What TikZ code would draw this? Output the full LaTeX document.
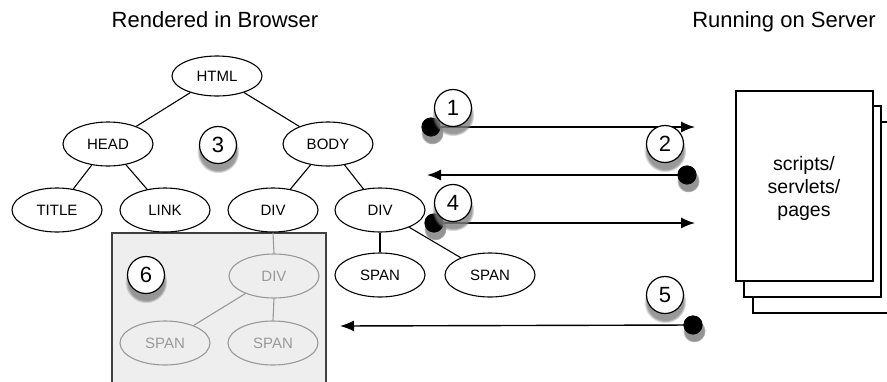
\documentclass[tikz,border=0pt]{standalone}
\usepackage{fontspec}
\setmainfont{Liberation Sans}
\usetikzlibrary{shapes.geometric,arrows.meta,shadows,positioning}

\definecolor{boxgray}{HTML}{EEEEEE}
\definecolor{ghostgray}{HTML}{999999}

\tikzset{
  tag/.style={ellipse, draw, line width=1.1pt, fill=white, minimum width=90pt,
    minimum height=44pt, inner sep=0pt, font=\fontsize{15}{18}\selectfont},
  ghost/.style={tag, draw=ghostgray, text=ghostgray, fill=boxgray},
  callout/.style={circle, draw, line width=1.2pt, fill=white, minimum size=37pt,
    inner sep=0pt, font=\fontsize{22}{26}\selectfont,
    circular drop shadow={shadow xshift=0pt, shadow yshift=-6pt, shadow scale=1.15, opacity=0.8}},
  blob/.style={circle, fill=black, minimum size=19pt, inner sep=0pt,
    circular drop shadow={shadow xshift=1pt, shadow yshift=-5pt, shadow scale=1.2, opacity=0.6}},
  msg/.style={line width=1.4pt, -{Latex[length=14pt,width=11pt]}},
  sheet/.style={draw, line width=1.2pt, fill=white},
  heading/.style={anchor=base, font=\fontsize{22}{26}\selectfont}
}

\begin{document}
\begin{tikzpicture}[x=1pt, y=-1pt]
  \useasboundingbox (0,0) rectangle (887,381);

  % headings
  \node[heading] (browser) at (215,27) {Rendered in Browser};
  \node[heading] (server) at (784,27) {Running on Server};

  % the part of the page that gets replaced
  \fill[boxgray] (112,233) rectangle (326,395);
  \draw[line width=1.2pt, black!75] (112,395) -- (112,233) -- (326,233) -- (326,395);

  % document tree
  \node[tag, minimum height=40pt] (html) at (217,76) {HTML};
  \node[tag] (head) at (108,144) {HEAD};
  \node[tag] (body) at (328,144) {BODY};
  \node[tag] (title) at (57,210) {TITLE};
  \node[tag] (link) at (165,210) {LINK};
  \node[tag] (div) at (273,210) {DIV};
  \node[tag] (divb) at (380,210) {DIV};
  \node[tag] (spana) at (380,275) {SPAN};
  \node[tag] (spanb) at (490,275) {SPAN};
  \node[ghost] (gdiv) at (274,276) {DIV};
  \node[ghost] (gspana) at (165,343) {SPAN};
  \node[ghost] (gspanb) at (273,343) {SPAN};

  \draw[line width=1.1pt] (html) -- (head);
  \draw[line width=1.1pt] (html) -- (body);
  \draw[line width=1.1pt] (head) -- (title);
  \draw[line width=1.1pt] (head) -- (link);
  \draw[line width=1.1pt] (body) -- (div);
  \draw[line width=1.1pt] (body) -- (divb);
  \draw[line width=1.1pt] (divb.south) -- (spana.north);
  \draw[line width=1.1pt] (divb) -- (spanb);
  \draw[line width=1.1pt, ghostgray] (div.south) -- (gdiv.north);
  \draw[line width=1.1pt, ghostgray] (gdiv) -- (gspana);
  \draw[line width=1.1pt, ghostgray] (gdiv.south) -- (gspanb.north);

  % server pages
  \draw[sheet] (753,122) rectangle (895,313);
  \draw[sheet] (744,106) rectangle (881,297);
  \draw[sheet] (736,91) rectangle (873,281);
  \node[align=center, font=\fontsize{19.5}{23}\selectfont] (scripts) at (804,188)
    {scripts/\\servlets/\\pages};

  % requests and responses
  \node[blob] (d1) at (431,127) {};
  \node[blob] (d2) at (687,175) {};
  \node[blob] (d4) at (434,223) {};
  \node[blob] (d5) at (693,325) {};
  \coordinate (e1) at (695,127);
  \coordinate (e2) at (427,175);
  \coordinate (e4) at (695,223);
  \coordinate (e5) at (340,326);
  \draw[msg] (d1.center) -- (e1);
  \draw[msg] (d2.center) -- (e2);
  \draw[msg] (d4.center) -- (e4);
  \draw[msg] (d5.center) -- (e5);
  \node[blob] at (d1) {};
  \node[blob] at (d2) {};
  \node[blob] at (d4) {};
  \node[blob] at (d5) {};

  % numbered steps
  \node[callout] (s1) at (453,108) {1};
  \node[callout] (s2) at (665,144) {2};
  \node[callout] (s3) at (218,145) {3};
  \node[callout] (s4) at (453,203) {4};
  \node[callout] (s5) at (665,295) {5};
  \node[callout] (s6) at (146,275) {6};
\end{tikzpicture}
\end{document}
